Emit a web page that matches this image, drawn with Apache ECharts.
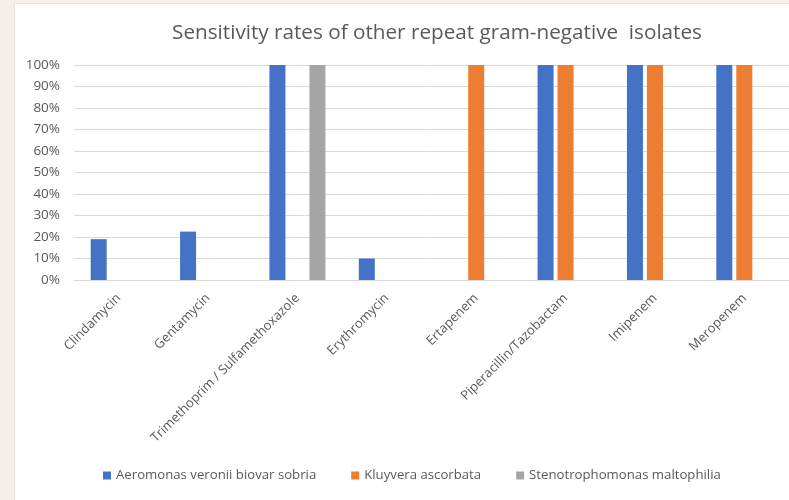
<!DOCTYPE html>
<html>
<head>
<meta charset="utf-8">
<script src="https://cdn.jsdelivr.net/npm/echarts@6/dist/echarts.min.js"></script>
<style>
  html, body { margin: 0; padding: 0; width: 789px; height: 500px; background: #f6efe9; overflow: hidden; }
  #card { position: absolute; left: 14px; top: 3px; right: 0; bottom: 0; background: #ffffff;
          border-left: 1px solid #e4e4e4; border-top: 1px solid #e4e4e4; }
  #chart { position: absolute; left: 0; top: 0; width: 789px; height: 500px; }
</style>
</head>
<body>
<div id="card"></div>
<div id="chart"></div>
<script>
// Antibiotics tested
const antibiotics = [
  'Clindamycin', 'Gentamycin', 'Trimethoprim / Sulfamethoxazole', 'Erythromycin',
  'Ertapenem', 'Piperacillin/Tazobactam', 'Imipenem', 'Meropenem'
];

// Sensitivity rate (%) per organism; null = not tested
const aeromonas = [19, 22.5, 100, 10, null, 100, 100, 100];
const kluyvera = [null, null, null, null, 100, 100, 100, 100];
const stenotrophomonas = [null, null, 100, null, null, null, null, null];

const seriesNames = [
  'Aeromonas veronii biovar sobria',
  'Kluyvera ascorbata',
  'Stenotrophomonas maltophilia'
];

const yTicks = [0, 10, 20, 30, 40, 50, 60, 70, 80, 90, 100];

const FONT = '"Open Sans", sans-serif';
const TXT = '#595959';

const chart = echarts.init(document.getElementById('chart'), null, { renderer: 'canvas' });

function bar(name, data, color) {
  return {
    name: name,
    type: 'bar',
    data: data,
    barWidth: 16,
    barGap: '25%',
    itemStyle: { color: color },
    emphasis: { disabled: true }
  };
}

chart.setOption({
  animation: false,
  color: ['#4472c4', '#ed7d31', '#a5a5a5'],
  title: {
    text: 'Sensitivity rates of other repeat gram-negative  isolates',
    left: 432,
    top: 18,
    textAlign: 'center',
    textStyle: { fontFamily: FONT, fontSize: 20.7, fontWeight: 'normal', color: TXT }
  },
  legend: {
    data: seriesNames,
    left: 103,
    top: 469,
    padding: 0,
    icon: 'rect',
    itemWidth: 8,
    itemHeight: 8,
    itemGap: 35,
    textStyle: { fontFamily: FONT, fontSize: 13.2, color: TXT }
  },
  grid: { left: 74, right: 0, top: 65, bottom: 220 },
  xAxis: {
    type: 'category',
    data: antibiotics,
    axisLine: { lineStyle: { color: '#d9d9d9', width: 1 } },
    axisTick: { show: false },
    axisLabel: {
      rotate: 45,
      margin: 16,
      interval: 0,
      fontFamily: FONT,
      fontSize: 13,
      color: TXT
    }
  },
  yAxis: {
    type: 'value',
    min: yTicks[0],
    max: yTicks[yTicks.length - 1],
    interval: yTicks[1] - yTicks[0],
    axisLine: { show: false },
    axisTick: { show: false },
    splitLine: { lineStyle: { color: '#d9d9d9', width: 1 } },
    axisLabel: {
      margin: 14,
      fontFamily: FONT,
      fontSize: 13.5,
      color: TXT,
      formatter: v => v + '%'
    }
  },
  series: [
    bar(seriesNames[0], aeromonas, '#4472c4'),
    bar(seriesNames[1], kluyvera, '#ed7d31'),
    bar(seriesNames[2], stenotrophomonas, '#a5a5a5')
  ]
});
</script>
</body>
</html>
